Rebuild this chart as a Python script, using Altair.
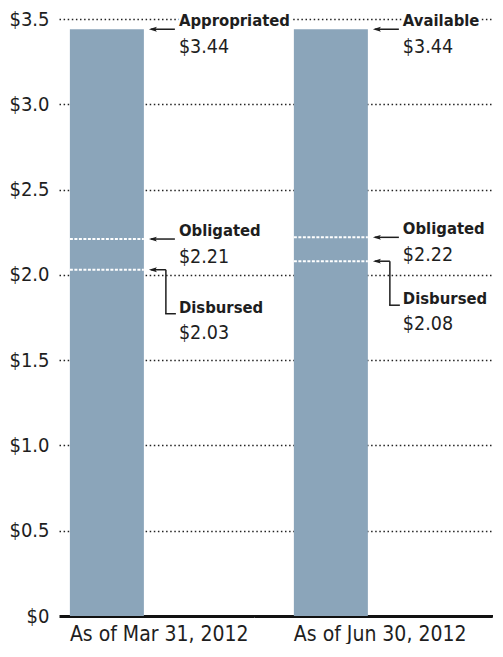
import altair as alt
import pandas as pd

periods = ["As of Mar 31, 2012", "As of Jun 30, 2012"]
top_names = ["Appropriated", "Available"]
totals = [3.44, 3.44]
obligated = [2.21, 2.22]
disbursed = [2.03, 2.08]
y_ticks = [0, 0.5, 1.0, 1.5, 2.0, 2.5, 3.0, 3.5]

bars_df = pd.DataFrame({"period": periods, "total": totals})
rows = []
for p, tn, t, o, d in zip(periods, top_names, totals, obligated, disbursed):
    rows.append({"period": p, "kind": "top", "name": tn, "value": t})
    rows.append({"period": p, "kind": "obl", "name": "Obligated", "value": o})
    rows.append({"period": p, "kind": "dis", "name": "Disbursed", "value": d})
ann = pd.DataFrame(rows)
ann["label"] = ann["value"].map(lambda v: f"${v:.2f}")

FONT = "DejaVu Sans Condensed"
INK = "#1e1e1e"
BAR = "#8ba5ba"

xs = alt.Scale(paddingInner=0.6696, paddingOuter=0.3036, align=0.08)

bars = alt.Chart(bars_df).mark_bar(color=BAR).encode(
    x=alt.X("period:N", sort=periods, scale=xs, title=None,
            axis=alt.Axis(domain=False, ticks=False, labelAlign="left", labelOffset=-37,
                          labelBaseline="top", labelPadding=7, labelFontSize=21,
                          labelFont=FONT, labelColor=INK, labelAngle=0)),
    y=alt.Y("total:Q", scale=alt.Scale(domain=[0, 3.5], nice=False), title=None,
            axis=alt.Axis(values=y_ticks, domain=False, ticks=False, grid=True,
                          labelExpr="datum.value === 0 ? '$0' : '$' + format(datum.value, '.1f')",
                          labelFontSize=20, labelFont=FONT, labelColor=INK, labelPadding=10,
                          gridDash={"condition": {"test": "datum.value === 0", "value": [1, 0]}, "value": [1.5, 2.6]},
                          gridColor={"condition": {"test": "datum.value === 0", "value": "#111111"}, "value": "#222222"},
                          gridWidth={"condition": {"test": "datum.value === 0", "value": 3}, "value": 1.5})),
)

base = alt.Chart(ann)
xr = alt.X("period:N", sort=periods, bandPosition=1, title=None)
yv = alt.Y("value:Q", title=None)

white_lines = base.transform_filter("datum.kind !== 'top'").mark_rule(
    color="white", strokeWidth=2, strokeDash=[3, 1.5]
).encode(
    x=alt.X("period:N", sort=periods, bandPosition=0, title=None),
    x2=alt.X2("period", bandPosition=1),
    y=yv,
)

arrow_line = base.transform_filter("datum.kind !== 'dis'").mark_rule(
    color=INK, strokeWidth=1.5, xOffset=7, x2Offset=31
).encode(x=xr, x2=alt.X2("period", bandPosition=1), y=yv)

dis_h1 = base.transform_filter("datum.kind === 'dis'").mark_rule(
    color=INK, strokeWidth=1.5, xOffset=7, x2Offset=22
).encode(x=xr, x2=alt.X2("period", bandPosition=1), y=yv)

dis_v = base.transform_filter("datum.kind === 'dis'").mark_rule(
    color=INK, strokeWidth=1.5, xOffset=22, y2Offset=44
).encode(x=xr, y=yv, y2=alt.Y2("value"))

dis_h2 = base.transform_filter("datum.kind === 'dis'").mark_rule(
    color=INK, strokeWidth=1.5, xOffset=21.25, x2Offset=32, yOffset=44
).encode(x=xr, x2=alt.X2("period", bandPosition=1), y=yv)

heads = base.mark_point(
    shape="M-1,0L1,-0.6L0.6,0L1,0.6Z", size=64, filled=True, color=INK, opacity=1, xOffset=9
).encode(x=xr, y=yv)

def txt(kind_test, dy, bold, size, field, halo=False):
    props = dict(align="left", baseline="middle", dx=35, dy=dy, font=FONT,
                 fontSize=size, fontWeight="bold" if bold else "normal", color=INK)
    if halo:
        props.update(color="white", stroke="white", strokeWidth=5)
    return base.transform_filter(kind_test).mark_text(**props).encode(
        x=xr, y=yv, text=f"{field}:N")

halo = txt("datum.kind !== 'dis'", -8, True, 16.5, "name", halo=True)
name_up = txt("datum.kind !== 'dis'", -8, True, 16.5, "name")
val_up = txt("datum.kind !== 'dis'", 18, False, 19.5, "label")
name_dis = txt("datum.kind === 'dis'", 38, True, 16.5, "name")
val_dis = txt("datum.kind === 'dis'", 63, False, 19.5, "label")

chart = alt.layer(
    bars, white_lines, arrow_line, dis_h1, dis_v, dis_h2, heads,
    halo, name_up, val_up, name_dis, val_dis
).properties(width=434, height=597,
             padding={"top": 1, "left": 0, "right": 0, "bottom": 0}).configure_view(stroke=None)

chart.save("out.html", embed_options={"renderer": "svg", "actions": False})
